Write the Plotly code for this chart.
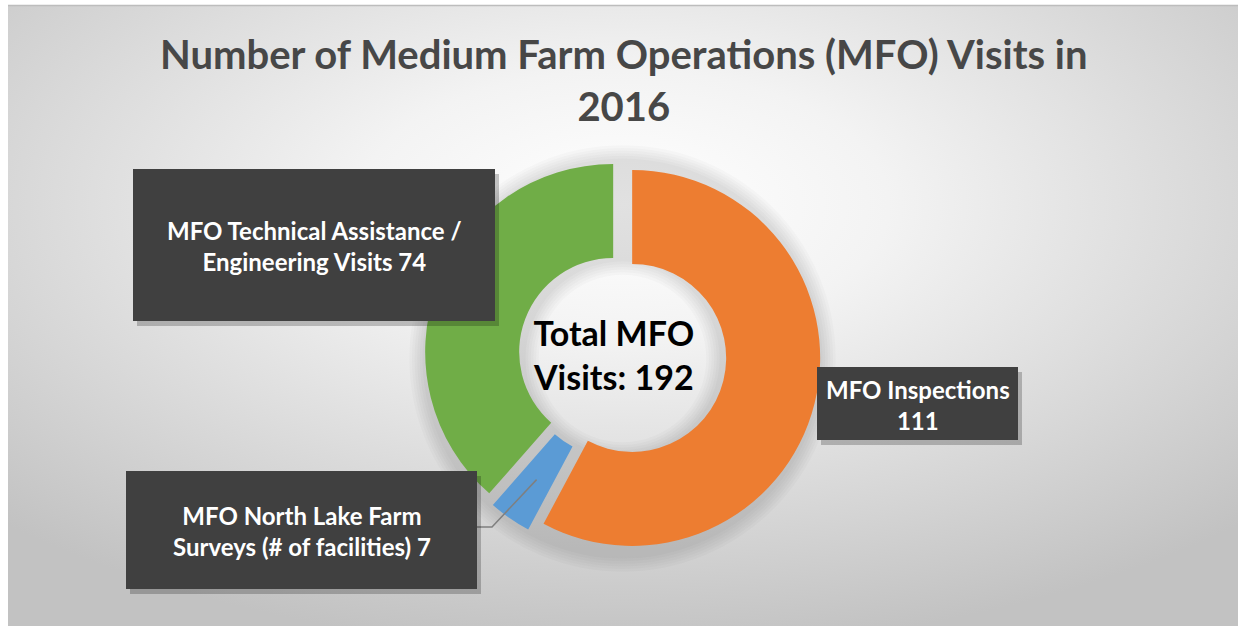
import base64
import math
import plotly.graph_objects as go

# ---------------- data ----------------
categories = [
    "MFO Inspections",
    "MFO North Lake Farm Surveys (# of facilities)",
    "MFO Technical Assistance / Engineering Visits",
]
values = [111, 7, 74]
label_line1 = ["MFO Inspections", "MFO North Lake Farm", "MFO Technical Assistance /"]
label_line2 = ["", "Surveys (# of facilities) ", "Engineering Visits "]
title_lines = ["Number of Medium Farm Operations (MFO) Visits in", "2016"]
center_lines = ["Total MFO", "Visits: "]

# ---------------- style / layout ----------------
colors = ["#ED7D31", "#5B9BD5", "#70AD47"]
W, H = 1238, 626
FONT = "Lato"
CX, CY = 622.5, 355.5
R = 188.0
PULL = 0.053
HOLE = 0.5

# label boxes in pixels: (x0, y0, x1, y1)
boxes = [(817, 367, 1018, 440), (126, 471, 477, 589), (133, 169, 495, 321)]


def px(x):
    return x / W


def py(y):
    return 1 - y / H


half = R * (1 + PULL)
domain_x = [px(CX - half), px(CX + half)]
domain_y = [py(CY + half), py(CY - half)]

# background radial gradient (svg data uri)
svg = (
    "<svg xmlns='http://www.w3.org/2000/svg' width='1230' height='620' "
    "viewBox='0 0 1230 620' preserveAspectRatio='none'>"
    "<defs><radialGradient id='g' cx='0.5' cy='0.32' r='0.72'>"
    "<stop offset='0' stop-color='#ffffff'/>"
    "<stop offset='0.3' stop-color='#f3f3f3'/>"
    "<stop offset='1' stop-color='#c2c2c2'/>"
    "</radialGradient></defs>"
    "<rect width='1230' height='620' fill='url(#g)'/></svg>"
)
bg_src = "data:image/svg+xml;base64," + base64.b64encode(svg.encode()).decode()

fig = go.Figure()

# soft shadow halo behind the donut
for k in range(6):
    grow = 2 + 2.5 * k
    hs = (R + grow) * (1 + PULL)
    fig.add_trace(
        go.Pie(
            values=[1],
            sort=False,
            hole=max(0.0, (R * HOLE - grow)) / (R + grow),
            marker=dict(colors=["rgba(0,0,0,0.018)"], line=dict(width=0)),
            textinfo="none",
            hoverinfo="skip",
            showlegend=False,
            domain=dict(x=[px(CX - hs), px(CX + hs)], y=[py(CY + 3 + hs), py(CY + 3 - hs)]),
        )
    )

fig.add_trace(
    go.Pie(
        labels=categories,
        values=values,
        sort=False,
        direction="clockwise",
        rotation=0,
        hole=HOLE,
        pull=[PULL] * len(values),
        marker=dict(colors=colors, line=dict(width=0)),
        textinfo="none",
        hoverinfo="label+value",
        showlegend=False,
        domain=dict(x=domain_x, y=domain_y),
    )
)

shapes = []
annotations = []

# panel top border line
shapes.append(dict(type="line", xref="paper", yref="paper",
                   x0=px(8), x1=1, y0=py(5.5), y1=py(5.5),
                   line=dict(color="#bdbdbd", width=1.5), layer="below"))

# leader line for the small slice, computed from the data
total = sum(values)
cum_before = sum(values[:1])
mid_ang = math.radians((cum_before + values[1] / 2) / total * 360)
ccx = CX + PULL * R * math.sin(mid_ang)
ccy = CY - PULL * R * math.cos(mid_ang)
rm = (R * HOLE + R) / 2
sx = ccx + rm * math.sin(mid_ang)
sy = ccy - rm * math.cos(mid_ang)
bx, by = 492, 527
ex = boxes[1][2]
shapes.append(dict(type="path", xref="paper", yref="paper",
                   path=f"M {px(sx)},{py(sy)} L {px(bx)},{py(by)} L {px(ex)},{py(by)}",
                   line=dict(color="#7f7f7f", width=1.5), layer="above"))

for i, (x0, y0, x1, y1) in enumerate(boxes):
    # shadow
    shapes.append(dict(type="rect", xref="paper", yref="paper",
                       x0=px(x0 + 4), x1=px(x1 + 4), y0=py(y1 + 5), y1=py(y0 + 5),
                       fillcolor="rgba(0,0,0,0.22)", line=dict(width=0), layer="above"))
    shapes.append(dict(type="rect", xref="paper", yref="paper",
                       x0=px(x0), x1=px(x1), y0=py(y1), y1=py(y0),
                       fillcolor="#404040", line=dict(width=0), layer="above"))
    l2 = f"{label_line2[i]}{values[i]}"
    annotations.append(dict(
        xref="paper", yref="paper",
        x=px((x0 + x1) / 2), y=py((y0 + y1) / 2 + 1),
        text=f"<b>{label_line1[i]}</b><br><b>{l2}</b>",
        showarrow=False, align="center",
        font=dict(family=FONT, size=24, color="#ffffff"),
        xanchor="center", yanchor="middle",
    ))

# center total
annotations.append(dict(
    xref="paper", yref="paper", x=px(613), y=py(354),
    text=f"<b>{center_lines[0]}</b><br><b>{center_lines[1]}{total}</b>",
    showarrow=False, align="center",
    font=dict(family=FONT, size=34, color="#000000"),
    xanchor="center", yanchor="middle",
))

# title
annotations.append(dict(
    xref="paper", yref="paper", x=px(624), y=py(80),
    text="<b>" + "</b><br><b>".join(title_lines) + "</b>",
    showarrow=False, align="center",
    font=dict(family=FONT, size=40, color="#474747"),
    xanchor="center", yanchor="middle",
))

fig.update_layout(
    width=W, height=H,
    margin=dict(l=0, r=0, t=0, b=0),
    paper_bgcolor="#ffffff",
    plot_bgcolor="rgba(0,0,0,0)",
    shapes=shapes,
    annotations=annotations,
    images=[dict(source=bg_src, xref="paper", yref="paper",
                 x=px(8), y=py(6), sizex=1 - px(8), sizey=1 - 6 / H,
                 xanchor="left", yanchor="top", sizing="stretch", layer="below")],
)

fig.write_html("out.html", config={"displayModeBar": False},
               post_script="document.body.style.margin='0px';")
